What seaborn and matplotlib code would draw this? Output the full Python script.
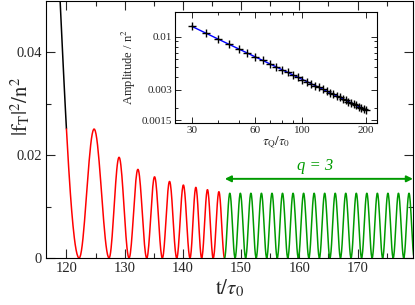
import numpy as np
import pandas as pd
import matplotlib
matplotlib.use('Agg')
import matplotlib.pyplot as plt
import matplotlib.ticker as mticker
import seaborn as sns

sns.set_theme(style='ticks')
plt.rcParams['font.family'] = ['Liberation Serif', 'DejaVu Serif']
plt.rcParams['mathtext.fontset'] = 'stix'

# first (cut) lobe: black before t=120, red after
head_zeros = [109.2, 122.18]
head_peak = 0.099
split_t = 120.0

# red lobes, zeros and peak heights
red_zeros = [122.18, 127.32, 130.75, 133.79, 136.47, 138.94, 141.22, 143.22, 145.21, 147.15]
red_peaks = [0.0251, 0.0196, 0.01725, 0.0158, 0.0149, 0.0142, 0.01375, 0.0133, 0.0129]

# green lobes (q = 3)
green_zeros = [147.15, 148.96, 150.77, 152.58, 154.39, 156.20, 158.01, 159.82, 161.63,
               163.44, 165.25, 167.06, 168.87, 170.68, 172.49, 174.30, 176.11, 177.92, 179.73]
green_peaks = [0.0126] * 18

# inset: amplitude vs quench time
tau_q = [30, 35, 40, 45, 50, 55, 60, 65, 70, 75, 80, 85, 90, 95, 100, 105, 110, 115,
         120, 125, 130, 135, 140, 145, 150, 155, 160, 165, 170, 175, 180, 185, 190, 195, 200]
amplitude = [0.0127, 0.01086, 0.0095, 0.00844, 0.0076, 0.00691, 0.00633, 0.00585, 0.00543,
             0.00507, 0.00475, 0.00447, 0.00422, 0.0040, 0.0038, 0.00362, 0.00345, 0.0033,
             0.00317, 0.00304, 0.00292, 0.00281, 0.00271, 0.00262, 0.00253, 0.00245, 0.00238,
             0.0023, 0.00224, 0.00217, 0.00211, 0.00205, 0.0020, 0.00195, 0.0019]

RED = '#ff0000'
GREEN = '#009a00'
BLUE = '#0000ff'


def lobe(z0, z1, p, t):
    return p * np.sin(np.pi * (t - z0) / (z1 - z0)) ** 2


def lobes(zeros, peaks, n=40):
    ts, ys = [], []
    for z0, z1, p in zip(zeros[:-1], zeros[1:], peaks):
        t = np.linspace(z0, z1, n)[:-1]
        ts.append(t)
        ys.append(lobe(z0, z1, p, t))
    ts.append([zeros[-1]])
    ys.append([0.0])
    return np.concatenate(ts), np.concatenate(ys)


t_b = np.linspace(118.5, split_t, 20)
black = pd.DataFrame({'t': t_b, 'y': lobe(head_zeros[0], head_zeros[1], head_peak, t_b)})
t_rh = np.linspace(split_t, head_zeros[1], 30)[:-1]
red_head = pd.DataFrame({'t': t_rh, 'y': lobe(head_zeros[0], head_zeros[1], head_peak, t_rh)})
t_r, y_r = lobes(red_zeros, red_peaks)
red = pd.concat([red_head, pd.DataFrame({'t': t_r, 'y': y_r})])
t_g, y_g = lobes(green_zeros, green_peaks)
green = pd.DataFrame({'t': t_g, 'y': y_g})

fig = plt.figure(figsize=(4.15, 3.05), dpi=100)
ax = fig.add_axes([0.111, 0.154, 0.884, 0.843])

sns.lineplot(data=black, x='t', y='y', color='black', lw=1.1, estimator=None, sort=False, ax=ax)
sns.lineplot(data=red, x='t', y='y', color=RED, lw=1.1, estimator=None, sort=False, ax=ax)
sns.lineplot(data=green, x='t', y='y', color=GREEN, lw=1.1, estimator=None, sort=False, ax=ax)

ax.set_xlim(116.5, 179.5)
ax.set_ylim(0, 0.05)
ax.xaxis.set_major_locator(mticker.MultipleLocator(10))
ax.xaxis.set_minor_locator(mticker.MultipleLocator(5))
ax.yaxis.set_major_locator(mticker.FixedLocator([0, 0.02, 0.04]))
ax.yaxis.set_minor_locator(mticker.FixedLocator([0.01, 0.03]))
ax.yaxis.set_major_formatter(mticker.FixedFormatter(['0', '0.02', '0.04']))
ax.tick_params(which='both', direction='in', top=True, right=True, labelsize=10.5, pad=3)
ax.tick_params(which='major', length=6.5, width=0.8)
ax.tick_params(which='minor', length=3.5, width=0.8)
for s in ax.spines.values():
    s.set_linewidth(0.8)
    s.set_color('black')
ax.set_xlabel(r'$\mathrm{t}/\tau_0$', fontsize=15, labelpad=2)
ax.set_ylabel(r'$|\mathrm{f}_\mathrm{T}|^2/\mathrm{n}^2$', fontsize=15)
ax.yaxis.set_label_coords(-0.036, 0.59)

ax.annotate('', xy=(147.2, 0.0154), xytext=(179.5, 0.0154),
            arrowprops=dict(arrowstyle='<|-|>', color=GREEN, lw=1.4, mutation_scale=9,
                            shrinkA=0, shrinkB=0), annotation_clip=False)
ax.text(162.7, 0.0178, 'q = 3', color=GREEN, fontsize=12, style='italic',
        ha='center', va='center')

ins = fig.add_axes([0.4217, 0.597, 0.4867, 0.364])
sns.lineplot(x=tau_q, y=amplitude, color=BLUE, lw=1.0, ax=ins)
ins.plot(tau_q, amplitude, ls='none', marker='+', ms=5.5, mew=1.0, color='black')
ins.set_xscale('log')
ins.set_yscale('log')
ins.set_xlim(25, 225)
ins.set_ylim(0.00142, 0.0176)
ins.xaxis.set_major_locator(mticker.FixedLocator([30, 60, 100, 200]))
ins.xaxis.set_major_formatter(mticker.FixedFormatter(['30', '60', '100', '200']))
ins.xaxis.set_minor_locator(mticker.FixedLocator([40, 50, 70, 80, 90]))
ins.xaxis.set_minor_formatter(mticker.NullFormatter())
ins.yaxis.set_major_locator(mticker.FixedLocator([0.0015, 0.003, 0.01]))
ins.yaxis.set_major_formatter(mticker.FixedFormatter(['0.0015', '0.003', '0.01']))
ins.yaxis.set_minor_locator(mticker.FixedLocator([0.002, 0.004, 0.005, 0.006, 0.007, 0.008, 0.009]))
ins.yaxis.set_minor_formatter(mticker.NullFormatter())
ins.tick_params(which='both', direction='in', top=True, right=True, labelsize=8, pad=2)
ins.tick_params(which='major', length=4, width=0.7)
ins.tick_params(which='minor', length=2.5, width=0.7)
for s in ins.spines.values():
    s.set_linewidth(0.8)
    s.set_color('black')
ins.set_xlabel(r'$\tau_\mathrm{Q}/\tau_0$', fontsize=9.5, labelpad=0)
ins.set_ylabel(r'Amplitude / n$^2$', fontsize=9, labelpad=3)

fig.savefig('out.png', dpi=100)
